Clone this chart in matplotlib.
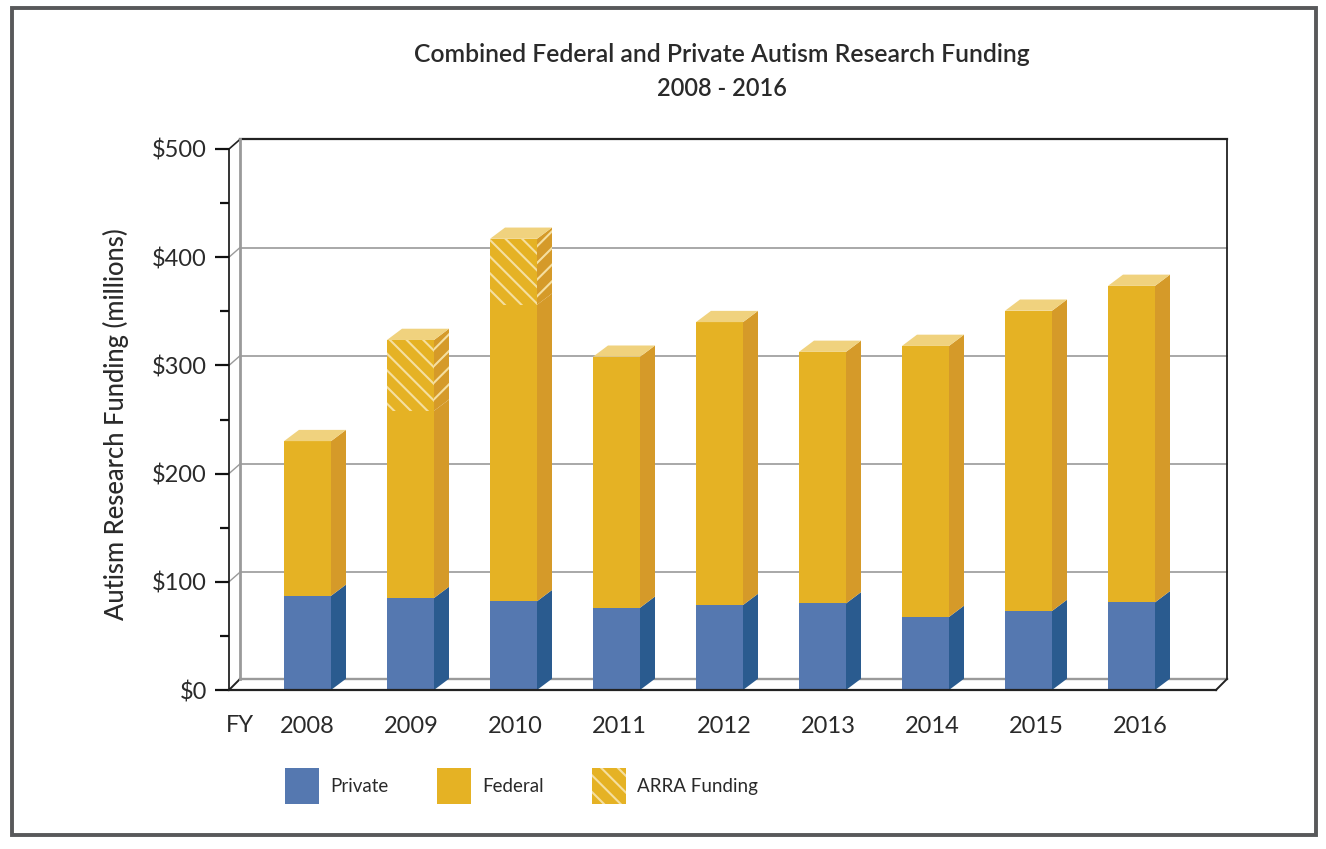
import matplotlib.pyplot as plt
from matplotlib.patches import Patch, Polygon, Rectangle

plt.rcParams['font.family'] = ['Lato', 'DejaVu Sans']
plt.rcParams['hatch.linewidth'] = 1.5

# data, millions of dollars
years = ['2008', '2009', '2010', '2011', '2012', '2013', '2014', '2015', '2016']
private = [87, 85, 82, 76, 78.5, 80, 67.5, 73, 81]
federal = [143, 173, 274, 232, 261.5, 232.5, 250.5, 277.5, 292.5]
arra = [0, 65.5, 61, 0, 0, 0, 0, 0, 0]
y_major = [0, 100, 200, 300, 400, 500]
y_minor = [50, 150, 250, 350, 450]
y_labels = ['$0', '$100', '$200', '$300', '$400', '$500']

# colours
blue = '#5578b0'
blue_side = '#2a5b8f'
gold = '#e5b224'
gold_side = '#d59a29'
gold_top = '#f0d27e'
stripe = '#f5dfa0'
grid_c = '#9a9a9a'
text_c = '#2a2a2a'

W, H = 1326, 849
fig = plt.figure(figsize=(W / 100, H / 100), dpi=100, facecolor='white')
ax = fig.add_axes([229 / W, (H - 690) / H, 987 / W, 541 / H])

step = 103.0  # pixels between bars
ax.set_xlim(-78.5 / step, (1216 - 307.5) / step)
ax.set_ylim(0, 500)

bar_w = 47 / step
bar_dx = 15 / step    # depth of a bar
wall_dx = 11 / step   # depth of the back wall
depth_y = 10.4
wall_dy = 8.9
floor_dy = 10.2


def side_face(x, y0, y1, color, **kw):
    right = x + bar_w / 2
    pts = [(right, y0), (right + bar_dx, y0 + depth_y), (right + bar_dx, y1 + depth_y), (right, y1)]
    ax.add_patch(Polygon(pts, closed=True, facecolor=color, zorder=3, clip_on=False, **kw))


def top_face(x, y):
    left = x - bar_w / 2
    right = x + bar_w / 2
    pts = [(left, y), (left + bar_dx, y + depth_y), (right + bar_dx, y + depth_y), (right, y)]
    ax.add_patch(Polygon(pts, closed=True, facecolor=gold_top, edgecolor='none', zorder=4, clip_on=False))


# walls of the box
x0, x1 = ax.get_xlim()
for v in y_major:
    if v == 0:
        ax.plot([x0 + wall_dx, x1 + wall_dx], [floor_dy, floor_dy], color=grid_c, lw=1.7, zorder=1, clip_on=False)
        ax.plot([x0, x0 + wall_dx], [0, floor_dy], color='#222222', lw=1.4, zorder=1, clip_on=False)
        ax.plot([x1, x1 + wall_dx], [0, floor_dy], color='#222222', lw=1.4, zorder=1, clip_on=False)
    elif v == 500:
        ax.plot([x0 + wall_dx, x1 + wall_dx], [v + wall_dy, v + wall_dy], color='#222222', lw=1.6, zorder=1, clip_on=False)
        ax.plot([x0, x0 + wall_dx], [v, v + wall_dy], color='#222222', lw=1.2, zorder=1, clip_on=False)
    else:
        ax.plot([x0 + wall_dx, x1 + wall_dx], [v + wall_dy, v + wall_dy], color=grid_c, lw=1.2, zorder=1, clip_on=False)
        ax.plot([x0, x0 + wall_dx], [v, v + wall_dy], color=grid_c, lw=1.0, zorder=1, clip_on=False)
ax.plot([x0 + wall_dx, x0 + wall_dx], [floor_dy, 500 + wall_dy], color=grid_c, lw=2.0, zorder=1, clip_on=False)
ax.plot([x1 + wall_dx, x1 + wall_dx], [floor_dy, 500 + wall_dy], color='#222222', lw=1.3, zorder=1, clip_on=False)

# bars
xs = list(range(len(years)))
ax.bar(xs, private, bar_w, color=blue, zorder=3)
ax.bar(xs, federal, bar_w, bottom=private, color=gold, zorder=3)
for x, p, f, a in zip(xs, private, federal, arra):
    side_face(x, 0, p, blue_side, edgecolor='none')
    side_face(x, p, p + f, gold_side, edgecolor='none')
    if a > 0:
        ax.bar(x, a, bar_w, bottom=p + f, facecolor=gold, edgecolor=stripe, hatch='\\\\', lw=0, zorder=3)
        side_face(x, p + f, p + f + a, gold_side, edgecolor=stripe, hatch='//', lw=0)
    top_face(x, p + f + a)

# axes
for s in ['top', 'right']:
    ax.spines[s].set_visible(False)
ax.spines['left'].set_linewidth(1.2)
ax.spines['left'].set_color('#111111')
ax.spines['bottom'].set_linewidth(1.6)
ax.spines['bottom'].set_color('#222222')
ax.spines['bottom'].set_zorder(5)

ax.set_yticks(y_major)
ax.set_yticklabels(y_labels, fontsize=17, color=text_c)
ax.set_yticks(y_minor, minor=True)
ax.tick_params(axis='y', which='major', length=10, width=1.6, color='#111111', pad=6)
ax.tick_params(axis='y', which='minor', length=6.5, width=1.6, color='#111111')

# year labels run a little wider than the bars in the original
ax.set_xticks([x * 104.1 / step for x in xs])
ax.set_xticklabels(years, fontsize=17, color=text_c)
ax.tick_params(axis='x', length=0, pad=19)

fig.text(240 / W, 1 - 725 / H, 'FY', fontsize=17, color=text_c, ha='center', va='center')
fig.text(116 / W, 1 - 424 / H, 'Autism Research Funding (millions)', fontsize=18.4, fontweight='medium',
         color=text_c, rotation=90, ha='center', va='center')

fig.text(722 / W, 1 - 54 / H, 'Combined Federal and Private Autism Research Funding',
         fontsize=17.8, fontweight='semibold', color=text_c, ha='center', va='center')
fig.text(722 / W, 1 - 88 / H, '2008 - 2016', fontsize=17, fontweight='semibold', color=text_c,
         ha='center', va='center')

# legend
handles = [Patch(facecolor=blue, label='Private'),
           Patch(facecolor=gold, label='Federal'),
           Patch(facecolor=gold, edgecolor=stripe, hatch='\\\\', lw=0, label='ARRA Funding')]
ax.legend(handles=handles, ncol=3, frameon=False, fontsize=13.5, labelcolor=text_c,
          loc='center left', bbox_to_anchor=(285 / W, 1 - 786 / H), bbox_transform=fig.transFigure,
          borderaxespad=0, borderpad=0, handlelength=1.81, handleheight=2.58,
          handletextpad=0.59, columnspacing=2.6)

# outer border
fig.add_artist(Rectangle((11.5 / W, 1 - 835 / H), 1304 / W, 827 / H, transform=fig.transFigure,
                         facecolor='none', edgecolor='#58595b', lw=2.8))

fig.savefig('out.png', dpi=100)
